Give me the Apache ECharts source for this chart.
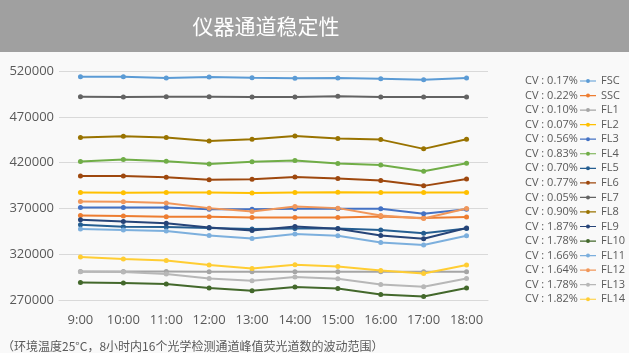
<!DOCTYPE html>
<html>
<head>
<meta charset="utf-8">
<script src="https://cdn.jsdelivr.net/npm/echarts@6/dist/echarts.min.js"></script>
<style>
  html, body { margin: 0; padding: 0; background: #f9f9f9; }
  #chart { width: 629px; height: 353px; }
</style>
</head>
<body>
<div id="chart"></div>
<script>
// 时间点
const hours = ["9:00", "10:00", "11:00", "12:00", "13:00", "14:00", "15:00", "16:00", "17:00", "18:00"];
const names = ["FSC", "SSC", "FL1", "FL2", "FL3", "FL4", "FL5", "FL6", "FL7", "FL8", "FL9", "FL10", "FL11", "FL12", "FL13", "FL14"];
const cvs = ["0.17%", "0.22%", "0.10%", "0.07%", "0.56%", "0.83%", "0.70%", "0.77%", "0.05%", "0.90%", "1.87%", "1.78%", "1.66%", "1.64%", "1.78%", "1.82%"];
const yTicks = [270000, 320000, 370000, 420000, 470000, 520000];

// 各通道峰值荧光道数
const fsc  = [513800, 513800, 512400, 513500, 512700, 512000, 512400, 511600, 510500, 512400];
const ssc  = [362200, 361600, 360800, 360800, 360100, 360100, 360100, 361100, 359400, 360500];
const fl1  = [301200, 301200, 301200, 300800, 300800, 300800, 300800, 300800, 300800, 300800];
const fl2  = [387300, 387000, 387300, 387300, 386700, 387300, 387700, 387300, 387300, 387300];
const fl3  = [371000, 371000, 371000, 369200, 369200, 369500, 369500, 369500, 364100, 369200];
const fl4  = [421100, 423300, 421500, 418600, 420800, 422200, 418900, 417500, 410600, 419400];
const fl5  = [352100, 349900, 349600, 348500, 347400, 348100, 348100, 346300, 343000, 348100];
const fl6  = [405500, 405500, 404100, 401200, 401900, 404400, 402600, 400400, 394600, 402200];
const fl7  = [492000, 491600, 492000, 492000, 491600, 491600, 492300, 491600, 491600, 491600];
const fl8  = [447300, 448800, 447300, 443700, 445500, 449100, 446200, 445100, 435000, 445500];
const fl9  = [357500, 355700, 353900, 349200, 345900, 350200, 347700, 340400, 336800, 348500];
const fl10 = [289200, 288500, 287400, 283100, 280100, 284200, 282600, 276100, 273900, 283100];
const fl11 = [347400, 346300, 345200, 340400, 337200, 342000, 340100, 332800, 330000, 340100];
const fl12 = [377500, 377200, 375800, 370300, 366600, 372000, 370300, 362200, 359000, 369900];
const fl13 = [300800, 300500, 298300, 293500, 291000, 295100, 293200, 287000, 284500, 293500];
const fl14 = [316900, 314700, 313200, 308200, 304500, 308500, 306600, 302300, 299000, 308200];

const values = [fsc, ssc, fl1, fl2, fl3, fl4, fl5, fl6, fl7, fl8, fl9, fl10, fl11, fl12, fl13, fl14];

// Office 配色
const colors = ["#5b9bd5", "#ed7d31", "#a5a5a5", "#ffc000", "#4472c4", "#70ad47", "#255e91", "#9e480e",
                "#636363", "#997300", "#264478", "#43682b", "#7cafdd", "#f1975a", "#b7b7b7", "#ffcd33"];

const textColor = "#595959";
const font = "'Open Sans', 'Noto Sans CJK SC', sans-serif";
// 图例图标：细线 + 小圆点
const lineDotIcon = "path://M0,1.4L6.2,1.4L6.2,2.6L0,2.6Z M9.8,1.4L16,1.4L16,2.6L9.8,2.6Z M6,2A2,2 0 1,1 10,2A2,2 0 1,1 6,2Z";

let myChart = echarts.init(document.getElementById("chart"));

myChart.setOption({
  backgroundColor: "#f9f9f9",
  color: colors,
  title: {
    text: "仪器通道稳定性",
    left: 261,
    textAlign: "center",
    top: 11,
    textStyle: { color: "#ffffff", fontSize: 21, fontWeight: "normal", fontFamily: "'Noto Sans CJK SC', sans-serif" }
  },
  graphic: [
    {
      type: "rect",
      z: -1,
      shape: { x: 0, y: 0, width: 629, height: 52 },
      style: { fill: "#a0a0a0" }
    },
    {
      type: "text",
      left: 2,
      top: 340,
      style: {
        text: "（环境温度25°C，8小时内16个光学检测通道峰值荧光道数的波动范围）",
        fill: textColor,
        font: "12px 'Noto Sans CJK SC', sans-serif"
      }
    }
  ],
  legend: [
    {
      orient: "vertical",
      left: 575,
      top: 70,
      icon: lineDotIcon,
      itemWidth: 16,
      itemHeight: 4,
      itemGap: 2.55,
      data: names,
      textStyle: { color: textColor, fontSize: 11, lineHeight: 12, fontFamily: font }
    },
    {
      orient: "vertical",
      left: 515,
      top: 70,
      icon: "rect",
      itemWidth: 0,
      itemHeight: 8,
      itemGap: 2.55,
      itemStyle: { opacity: 0 },
      data: names,
      formatter: function (name) {
        return "CV : " + cvs[names.indexOf(name)];
      },
      textStyle: { color: textColor, fontSize: 11, lineHeight: 12, fontFamily: font }
    }
  ],
  grid: {
    left: 59,
    right: 141,
    top: 71,
    bottom: 53,
    containLabel: false
  },
  xAxis: {
    type: "category",
    boundaryGap: true,
    data: hours,
    axisLine: { lineStyle: { color: "#d9d9d9" } },
    axisTick: { show: false },
    axisLabel: { color: textColor, fontSize: 13, margin: 14, interval: 0, fontFamily: font }
  },
  yAxis: {
    type: "value",
    min: yTicks[0],
    max: yTicks[yTicks.length - 1],
    interval: 50000,
    axisLine: { show: false },
    axisTick: { show: false },
    splitLine: { lineStyle: { color: "#d9d9d9" } },
    axisLabel: {
      color: textColor,
      fontSize: 13,
      margin: 5,
      fontFamily: font,
      formatter: function (v) { return String(v); }
    }
  },
  series: names.map(function (name, i) {
    return {
      name: name,
      type: "line",
      data: values[i],
      symbol: "circle",
      symbolSize: 5,
      lineStyle: { width: 2 },
      emphasis: { disabled: true }
    };
  })
});
</script>
</body>
</html>
